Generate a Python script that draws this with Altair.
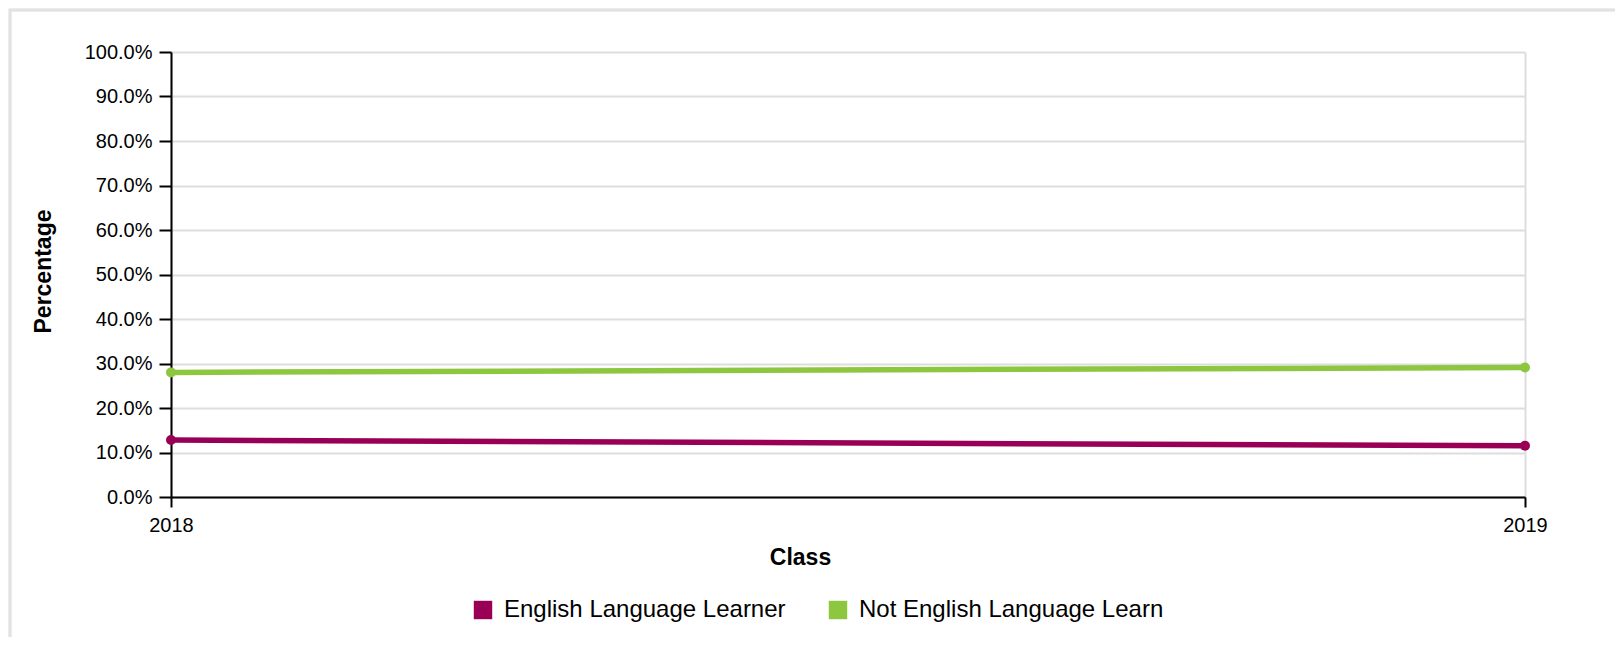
import altair as alt
import pandas as pd

classes = ["2018", "2019", "2018", "2019"]
groups = ["English Language Learner", "English Language Learner",
          "Not English Language Learn", "Not English Language Learn"]
values = [0.128, 0.115, 0.280, 0.291]
y_ticks = [0.0, 0.1, 0.2, 0.3, 0.4, 0.5, 0.6, 0.7, 0.8, 0.9, 1.0]
group_order = ["English Language Learner", "Not English Language Learn"]
group_colors = ["#990055", "#8dc63f"]

df = pd.DataFrame({"Class": classes, "Group": groups, "Percentage": values})

FONT = "Liberation Sans"
W, H = 1354, 445

x_enc = alt.X(
    "Class:O",
    scale=alt.Scale(type="point", padding=0),
    axis=alt.Axis(
        title="Class", labelAngle=0, labelFontSize=20, labelColor="black",
        labelPadding=8, tickSize=10, tickColor="black", tickWidth=2,
        domainColor="black", domainWidth=2, grid=True, gridColor="#dddddd",
        gridWidth=2, titleFontSize=23, titleFontWeight="bold", titleColor="black",
        titleX=629, titleY=60, titleBaseline="middle", titleAlign="center",
    ),
)
y_enc = alt.Y(
    "Percentage:Q",
    scale=alt.Scale(domain=[0, 1], nice=False),
    axis=alt.Axis(
        title="Percentage", format=".1%", values=y_ticks, labelFontSize=20,
        labelColor="black", labelPadding=7, tickSize=12, tickColor="black",
        tickWidth=2, domainColor="black", domainWidth=2, grid=True,
        gridColor="#dddddd", gridWidth=2, titleFontSize=23,
        titleFontWeight="bold", titleColor="black", titleX=-128, titleY=219,
        titleBaseline="middle", titleAlign="center", titleAngle=-90,
    ),
)
color_enc = alt.Color(
    "Group:N",
    scale=alt.Scale(domain=group_order, range=group_colors),
    legend=alt.Legend(
        title=None, orient="none", legendX=300, legendY=546,
        direction="horizontal", symbolType="square", symbolSize=340,
        symbolStrokeWidth=0, symbolOpacity=1, labelFontSize=24,
        labelColor="black", labelOffset=9, columnPadding=40, padding=0,
        labelLimit=400,
    ),
)

frame = alt.Chart(df).mark_rect(
    fill=None, stroke="#e2e2e2", strokeWidth=2.5
).encode(
    x=alt.value(-161), x2=alt.value(1500), y=alt.value(-42), y2=alt.value(640)
)

lines = alt.Chart(df).mark_line(strokeWidth=5.5).encode(
    x=x_enc, y=y_enc, color=color_enc
)
points = alt.Chart(df).mark_circle(size=100, opacity=1).encode(
    x=x_enc, y=y_enc, color=color_enc
)

chart = alt.layer(frame, lines, points).properties(
    width=W, height=H,
    autosize=alt.AutoSizeParams(type="none"),
    padding={"left": 163, "top": 44, "right": 90, "bottom": 140},
).configure(font=FONT).configure_view(stroke=None)

chart.save("out.html", embed_options={"renderer": "svg", "actions": False})
